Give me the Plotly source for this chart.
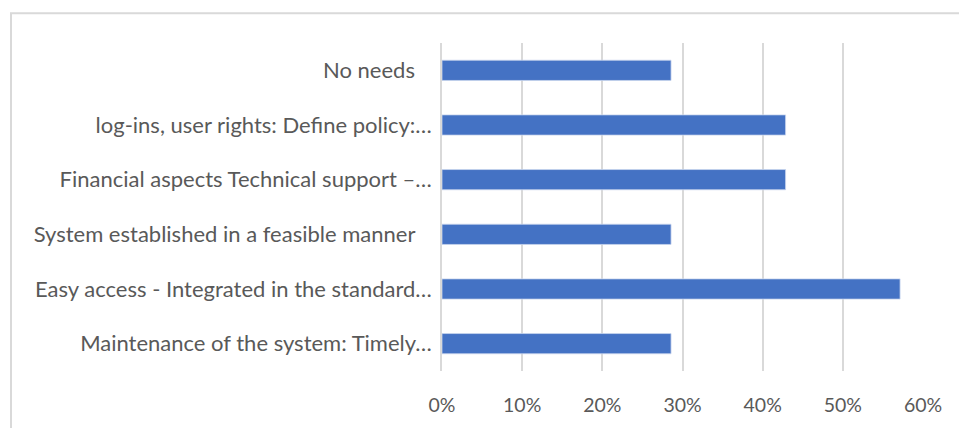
import plotly.graph_objects as go

categories = [
    "Maintenance of the system: Timely…",
    "Easy access - Integrated in the standard…",
    "System established in a feasible manner\u00a0\u00a0\u00a0",
    "Financial aspects Technical support –…",
    "log-ins, user rights: Define policy:…",
    "No needs\u00a0\u00a0\u00a0",
]
values = [0.2857, 0.5714, 0.2857, 0.4286, 0.4286, 0.2857]
tick_vals = [0, 0.1, 0.2, 0.3, 0.4, 0.5, 0.6]
tick_text = ["0%", "10%", "20%", "30%", "40%", "50%", "60%"]

fig = go.Figure(go.Bar(
    y=categories, x=values, orientation="h",
    marker=dict(color="#4472C4", line=dict(color="#C9D6EE", width=0.8)),
    width=0.37,
))

W, H = 959, 428
l, r, t, b = 442, 36, 43, 55
pw, ph = W - l - r, H - t - b

fig.update_layout(
    width=W, height=H,
    margin=dict(l=l, r=r, t=t, b=b),
    paper_bgcolor="white", plot_bgcolor="white",
    font=dict(family="Lato", size=16, color="#595959"),
    showlegend=False,
    xaxis=dict(range=[0, 0.6], tickvals=tick_vals, ticktext=tick_text,
               tickfont=dict(size=19.5),
               showgrid=True, gridcolor="#D9D9D9", gridwidth=1.5,
               zeroline=False, showline=False, ticks="", ticklabelstandoff=20),
    yaxis=dict(showgrid=False, showline=True, linecolor="#D9D9D9", linewidth=1.5,
               tickfont=dict(size=22),
               ticks="", ticklabelstandoff=4, zeroline=False),
    shapes=[dict(type="rect", xref="paper", yref="paper",
                 x0=(11 - l) / pw, x1=(W + 20 - l) / pw,
                 y0=-(H + 20 - (H - b)) / ph, y1=(H - b - 13) / ph,
                 line=dict(color="#D9D9D9", width=2), fillcolor="rgba(0,0,0,0)")],
)

fig.write_html("out.html")
